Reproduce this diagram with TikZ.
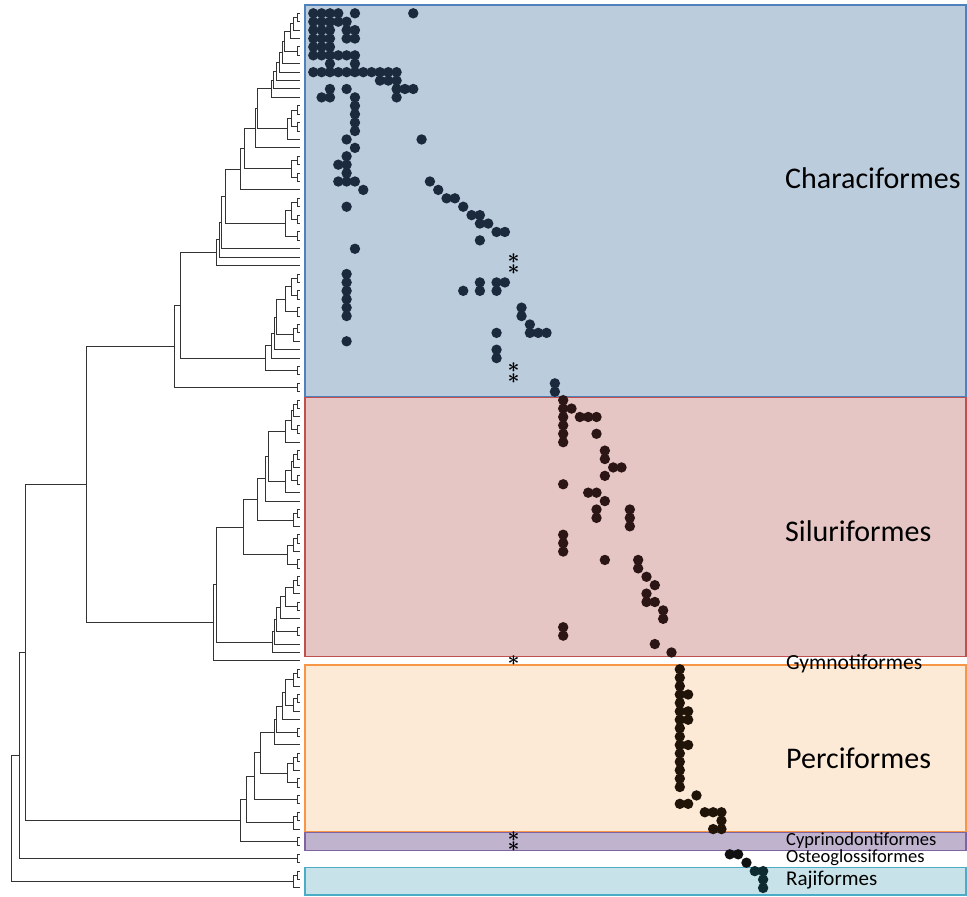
\documentclass[tikz,border=0pt]{standalone}
\usepackage{fontspec}
\setmainfont{Carlito}
\definecolor{charfill}{HTML}{BBCCDD}
\definecolor{charline}{HTML}{4F81BD}
\definecolor{silfill}{HTML}{E5C6C4}
\definecolor{silline}{HTML}{C0504D}
\definecolor{percfill}{HTML}{FCEAD7}
\definecolor{percline}{HTML}{F79646}
\definecolor{cypfill}{HTML}{BFB3CE}
\definecolor{cypline}{HTML}{8064A2}
\definecolor{rajfill}{HTML}{C7E2E8}
\definecolor{rajline}{HTML}{4BACC6}
\definecolor{chardot}{HTML}{1B2B3D}
\definecolor{sildot}{HTML}{2C1515}
\definecolor{percdot}{HTML}{201409}
\definecolor{ostdot}{HTML}{111111}
\definecolor{rajdot}{HTML}{0D2B30}
\newcommand\tjoin[5]{\coordinate (#1) at (#2,#3); \draw[tree] (#1) |- (#4); \draw[tree] (#1) |- (#5);}
\begin{document}
\begin{tikzpicture}[x=1pt,y=-1pt,
  tree/.style={draw=black!80, line width=1pt},
  band/.style={line width=1.2pt},
  lab/.style={inner sep=0pt, anchor=base west, text=black},
  big/.style={lab, font=\fontsize{30}{36}\selectfont},
  small/.style={lab, font=\fontsize{18.5}{22}\selectfont},
  ast/.style={inner sep=0pt, align=center, font=\fontsize{21}{8.41}\selectfont\boldmath}]
\useasboundingbox (0,0) rectangle (967,897);
% ---------------- bands
\draw[band, fill=charfill, draw=charline] (305,5) rectangle (966,396.5);
\draw[band, fill=silfill, draw=silline] (305,397.7) rectangle (966,656.5);
\draw[band, fill=percfill, draw=percline] (305,665) rectangle (966,831.7);
\draw[band, fill=cypfill, draw=cypline] (305,832.7) rectangle (966,850.7);
\draw[band, fill=rajfill, draw=rajline] (305,867.7) rectangle (966,895);
% ---------------- tree
\begin{scope}[y=-8.41pt, yshift=-13.3pt]
\foreach \i in {0,...,104} \coordinate (L\i) at (300,\i);
% Characiformes
\tjoin{c0}{297.5}{0.5}{L0}{L1}
\tjoin{n2}{293.5}{1.25}{c0}{L2}
\tjoin{n3}{290}{2.125}{n2}{L3}
\tjoin{c4}{297.5}{4.5}{L4}{L5}
\tjoin{n5}{284.5}{3.31}{n3}{c4}
\tjoin{n6}{282}{4.66}{n5}{L6}
\tjoin{n7}{279}{5.83}{n6}{L7}
\tjoin{n8}{276}{6.91}{n7}{L8}
\tjoin{n9}{273.5}{7.96}{n8}{L9}
\tjoin{n10}{271.5}{8.98}{n9}{L10}
\tjoin{c11}{297.5}{11.5}{L11}{L12}
\tjoin{c13}{297.5}{13.5}{L13}{L14}
\tjoin{n13}{291}{12.5}{c11}{c13}
\tjoin{nB}{287.5}{13.75}{n13}{L15}
\tjoin{nC1}{257.7}{11.37}{n10}{nB}
\tjoin{nC2}{255}{13.68}{nC1}{L16}
\tjoin{c17}{297.5}{17.5}{L17}{L18}
\tjoin{c19}{297.5}{19.5}{L19}{L20}
\tjoin{nD}{291}{18.5}{c17}{c19}
\tjoin{nC3}{244}{16.09}{nC2}{nD}
\tjoin{nC4}{240.7}{18.55}{nC3}{L21}
\tjoin{c22}{297.5}{22.5}{L22}{L23}
\tjoin{c24}{297.5}{24.5}{L24}{L25}
\tjoin{e1}{291}{23.5}{c22}{c24}
\tjoin{c26}{297.5}{26.5}{L26}{L27}
\tjoin{nE}{285}{25}{e1}{c26}
\tjoin{nC5}{225}{21.77}{nC4}{nE}
\tjoin{nC6}{221.7}{24.89}{nC5}{L28}
\tjoin{nC7}{219}{26.94}{nC6}{L29}
\tjoin{nC8}{216.7}{28.47}{nC7}{L30}
\tjoin{c31}{297.5}{31.5}{L31}{L32}
\tjoin{c33}{297.5}{33.5}{L33}{L34}
\tjoin{nX}{291}{32.5}{c31}{c33}
\tjoin{c35}{297.5}{35.5}{L35}{L36}
\tjoin{nP1}{285.7}{34}{nX}{c35}
\tjoin{c37}{297.5}{37.5}{L37}{L38}
\tjoin{nQ}{293.3}{38.25}{c37}{L39}
\tjoin{nP2}{276.7}{36.13}{nP1}{nQ}
\tjoin{nP3}{274}{38.06}{nP2}{L40}
\tjoin{nP4}{271.7}{39.53}{nP3}{L41}
\tjoin{c42}{297.5}{42.5}{L42}{L43}
\tjoin{nF}{265.7}{41.02}{nP4}{c42}
\tjoin{nG}{180}{34.75}{nC8}{nF}
\tjoin{c44}{297.5}{44.5}{L44}{L45}
\tjoin{nH}{174.3}{39.6}{nG}{c44}
% Siluriformes
\tjoin{c46}{297.5}{46.5}{L46}{L47}
\tjoin{s1}{293.3}{47.25}{c46}{L48}
\tjoin{c49}{297.5}{49.5}{L49}{L50}
\tjoin{s2}{291}{48.38}{s1}{c49}
\tjoin{s3}{285.7}{49.69}{s2}{L51}
\tjoin{c52}{297.5}{52.5}{L52}{L53}
\tjoin{s4}{293.3}{53.25}{c52}{L54}
\tjoin{c55}{297.5}{55.5}{L55}{L56}
\tjoin{s5}{291}{54.38}{s4}{c55}
\tjoin{s6}{285.7}{55.69}{s5}{L57}
\tjoin{s7}{268.3}{52.69}{s3}{s6}
\tjoin{s8}{265.7}{55.34}{s7}{L58}
\tjoin{c59}{297.5}{59.5}{L59}{L60}
\tjoin{sT}{293.3}{60.25}{c59}{L61}
\tjoin{s9}{257.3}{57.8}{s8}{sT}
\tjoin{c62}{297.5}{62.5}{L62}{L63}
\tjoin{u1}{293.3}{63.25}{c62}{L64}
\tjoin{c65}{297.5}{65.5}{L65}{L66}
\tjoin{sU}{287.3}{64.38}{u1}{c65}
\tjoin{s10}{243.3}{61.09}{s9}{sU}
\tjoin{c67}{297.5}{67.5}{L67}{L68}
\tjoin{w1}{293.3}{68.25}{c67}{L69}
\tjoin{c70}{297.5}{70.5}{L70}{L71}
\tjoin{w2}{285.7}{69.38}{w1}{c70}
\tjoin{w3}{280}{70.69}{w2}{L72}
\tjoin{c73}{297.5}{73.5}{L73}{L74}
\tjoin{w4}{276.7}{72.1}{w3}{c73}
\tjoin{w5}{274}{73.55}{w4}{L75}
\tjoin{w6}{272.7}{74.78}{w5}{L76}
\tjoin{sil}{216}{67.94}{s10}{w6}
\tjoin{sS}{213.3}{72.47}{sil}{L77}
\tjoin{nI}{86}{56.03}{nH}{sS}
% Perciformes and below
\tjoin{c78}{297.5}{78.5}{L78}{L79}
\tjoin{p1}{293.3}{79.25}{c78}{L80}
\tjoin{c81}{297.5}{81.5}{L81}{L82}
\tjoin{p2}{293.3}{82.25}{c81}{L83}
\tjoin{p3}{285.7}{80.75}{p1}{p2}
\tjoin{p4}{282.7}{82.38}{p3}{L84}
\tjoin{c85}{297.5}{85.5}{L85}{L86}
\tjoin{p5}{276.7}{83.94}{p4}{c85}
\tjoin{p6}{274}{85.47}{p5}{L87}
\tjoin{c88}{297.5}{88.5}{L88}{L89}
\tjoin{q1}{293.3}{89.25}{c88}{L90}
\tjoin{c91}{297.5}{91.5}{L91}{L92}
\tjoin{q2}{287.3}{90.38}{q1}{c91}
\tjoin{p7}{260}{87.92}{p6}{q2}
\tjoin{c93}{297.5}{93.5}{L93}{L94}
\tjoin{p8}{254.3}{90.71}{p7}{c93}
\tjoin{c95}{297.5}{95.5}{L95}{L96}
\tjoin{r1}{293.3}{96.25}{c95}{L97}
\tjoin{p9}{246.7}{93.48}{p8}{r1}
\tjoin{c98}{297.5}{98.5}{L98}{L99}
\tjoin{pPC}{240.7}{95.99}{p9}{c98}
\tjoin{nJ}{25}{76.01}{nI}{pPC}
\tjoin{c100}{297.5}{100.5}{L100}{L101}
\tjoin{nK}{19.3}{88.26}{nJ}{c100}
\tjoin{c102}{297.5}{102.5}{L102}{L103}
\tjoin{raj}{293.3}{103.25}{c102}{L104}
\tjoin{root}{11.7}{95.75}{nK}{raj}
\end{scope}
% ---------------- dots
\begin{scope}[x=8.33pt, y=-8.41pt, xshift=313.3pt, yshift=-13.3pt]
\foreach \c/\r in {0/0,1/0,2/0,3/0,5/0,12/0,
 0/1,1/1,2/1,3/1,4/1, 0/2,1/2,2/2,4/2,5/2, 0/3,1/3,2/3,4/3,5/3, 0/4,1/4,2/4,
 0/5,1/5,2/5,3/5,4/5,5/5, 2/6,5/6,
 0/7,1/7,2/7,3/7,4/7,5/7,6/7,7/7,8/7,9/7,10/7, 8/8,9/8,10/8,
 2/9,4/9,10/9,11/9,12/9, 1/10,2/10,5/10,10/10,
 5/11,5/12,5/13,5/14, 4/15,13/15, 5/16,4/17,3/18,4/18,4/19,
 3/20,4/20,5/20,14/20, 6/21,15/21,16/22,17/22,4/23,18/23,19/24,20/24,20/25,21/25,
 22/26,23/26,20/27,5/28,
 4/31,4/32,20/32,22/32,23/32,4/33,18/33,20/33,22/33,4/34,4/35,25/35,4/36,25/36,
 26/37,22/38,26/38,27/38,28/38,4/39,22/40,22/41,29/44,29/45}
 \fill[chardot] (\c,\r) circle[radius=5.2pt];
\foreach \c/\r in {30/46,30/47,31/47,30/48,32/48,33/48,34/48,30/49,30/50,34/50,30/51,
 35/52,35/53,36/54,37/54,35/55,30/56,33/57,34/57,35/58,34/59,38/59,34/60,38/60,38/61,
 30/62,30/63,30/64,35/65,39/65,39/66,40/67,41/68,40/69,40/70,41/70,42/71,42/72,
 30/73,30/74,41/75,43/76}
 \fill[sildot] (\c,\r) circle[radius=5.2pt];
\foreach \r in {78,...,92} \fill[percdot] (44,\r) circle[radius=5.2pt];
\foreach \c/\r in {45/81,45/83,45/84,45/87,46/93,44/94,45/94,47/95,48/95,49/95,49/96,48/97,49/97}
 \fill[percdot] (\c,\r) circle[radius=5.2pt];
\foreach \c/\r in {50/100,51/100,52/101} \fill[ostdot] (\c,\r) circle[radius=5.2pt];
\foreach \c/\r in {53/102,54/102,54/103,54/104} \fill[rajdot] (\c,\r) circle[radius=5.2pt];
\foreach \n/\r in {a/29.8,c/42.75,f/98.5}
  \node[ast] (ast\n) at (24.05,\r) {$\ast$\\$\ast$};
\node[ast] (aste) at (24.05,77) {$\ast$};
\end{scope}
% ---------------- labels
\node[big] (tChar) at (785,188) {Characiformes};
\node[big] (tSil) at (785,541) {Siluriformes};
\node[big] (tPerc) at (786,768) {Perciformes};
\node[lab, font=\fontsize{21.5}{24}\selectfont] (tGym) at (786,669.5) {Gymnotiformes};
\node[small] (tCyp) at (786,845) {Cyprinodontiformes};
\node[small] (tOst) at (786,862.5) {Osteoglossiformes};
\node[lab, font=\fontsize{21}{24}\selectfont] (tRaj) at (786,885) {Rajiformes};
\end{tikzpicture}
\end{document}
